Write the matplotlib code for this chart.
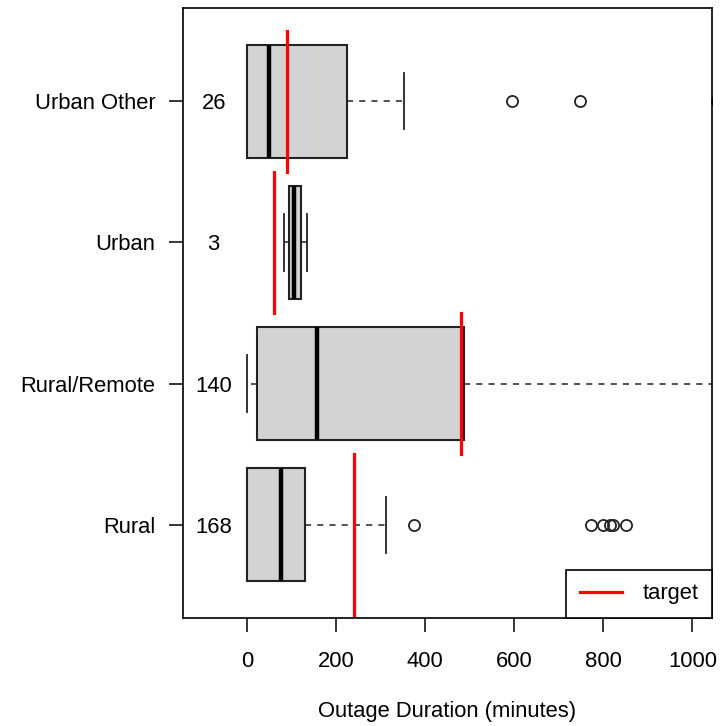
import matplotlib
matplotlib.use("Agg")
from matplotlib import pyplot as plt

plt.rcParams['font.family'] = ['Liberation Sans', 'DejaVu Sans']

# groups from bottom to top
groups = ["Rural", "Rural/Remote", "Urban", "Urban Other"]
counts = [168, 140, 3, 26]
q1 = [0, 23, 93, 0]
medians = [75, 158, 106, 50]
q3 = [129, 486, 121, 224]
whis_lo = [0, 0, 82, 0]
whis_hi = [311, 1200, 134, 353]
outliers = [[374, 772, 800, 816, 822, 851], [], [], [594, 748, 1056]]
targets = [240, 480, 61, 90]

positions = list(range(1, len(groups) + 1))
stats = []
for i in range(len(groups)):
    stats.append({"label": groups[i], "q1": q1[i], "med": medians[i], "q3": q3[i],
                  "whislo": whis_lo[i], "whishi": whis_hi[i], "fliers": outliers[i]})

fig = plt.figure(figsize=(7.28, 7.26), dpi=100)
ax = fig.add_axes([183/728, 1-618/726, (712-183)/728, (618-8)/726])

ax.bxp(stats, positions=positions, widths=0.8, orientation="horizontal",
       patch_artist=True, capwidths=0.4, manage_ticks=False,
       boxprops=dict(facecolor="#d3d3d3", edgecolor="#222222", linewidth=1.5),
       whiskerprops=dict(color="#222222", linewidth=1.1, linestyle=(0, (4, 4))),
       capprops=dict(color="#222222", linewidth=1.3),
       medianprops=dict(color="black", linewidth=3.2),
       flierprops=dict(marker="o", markerfacecolor="none", markeredgecolor="#222222",
                       markersize=8, markeredgewidth=1.3))

# target lines (the bottom one runs down to the axis edge)
for i, t in enumerate(targets):
    lo = positions[i] - 0.5 if i > 0 else 0
    ax.plot([t, t], [lo, positions[i] + 0.5], color="red", linewidth=2.3,
            label="target" if i == 0 else None)

# sample sizes
for i, n in enumerate(counts):
    ax.text(-75, positions[i], str(n), ha="center", va="center_baseline", fontsize=15.8)

ax.set_xlim(-144, 1044)
ax.set_ylim(0.34, 4.66)
ax.set_xticks([0, 200, 400, 600, 800, 1000])
ax.set_yticks(positions)
ax.set_yticklabels(groups)
ax.tick_params(axis="both", labelsize=15.8, length=10, width=1.1)
ax.tick_params(axis="x", pad=14)
ax.tick_params(axis="y", pad=10)
for lab in ax.get_yticklabels():
    lab.set_verticalalignment("center_baseline")
for s in ax.spines.values():
    s.set_linewidth(1.2)
ax.set_xlabel("Outage Duration (minutes)", fontsize=15.8, labelpad=21)

leg = ax.legend(loc="lower right", borderaxespad=0, fancybox=False, framealpha=1,
                edgecolor="black", fontsize=15.8, handlelength=1.9, handletextpad=0.95,
                borderpad=0.62)
leg.get_frame().set_linewidth(1.2)

plt.savefig("out.png", dpi=100)
